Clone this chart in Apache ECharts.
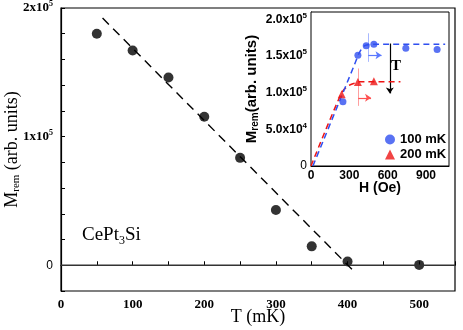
<!DOCTYPE html>
<html>
<head>
<meta charset="utf-8">
<script src="https://cdn.jsdelivr.net/npm/echarts@6/dist/echarts.min.js"></script>
<style>
  html, body { margin: 0; padding: 0; background: #fff; }
  #chart { width: 463px; height: 330px; }
</style>
</head>
<body>
<div id="chart"></div>
<script>
// main panel: remanent magnetization vs temperature
const mainT = [50, 100, 150, 200, 250, 300, 350, 400, 500]
const mainM = [180000, 167000, 146000, 115500, 83500, 43000, 14700, 2900, 300]
const fitT = [58, 412]
const fitM = [192200, -6400]
const zeroT = [0, 550]
const zeroM = [0, 0]

// inset: M_rem vs field
const h100 = [250, 367, 432, 492, 742, 987]
const m100 = [87500, 151000, 164000, 166000, 160500, 158800]
const h200 = [240, 367, 492]
const m200 = [98000, 114700, 115600]
const guide100H = [15, 340, 380, 420, 480, 1050]
const guide100M = [0, 138000, 155000, 164000, 166000, 166000]
const guide200H = [0, 240, 290, 340, 380, 700]
const guide200M = [0, 100000, 109000, 113000, 115000, 115000]

const mainYLabels = { 0: '0', 100000: '{b|1x10}{s|5}', 200000: '{b|2x10}{s|5}' }
const insetYLabels = {
  0: '0', 50000: '{b|5.0x10}{s|4}', 100000: '{b|1.0x10}{s|5}',
  150000: '{b|1.5x10}{s|5}', 200000: '{b|2.0x10}{s|5}'
}

const zip = (a, b) => a.map((v, i) => [v, b[i]])

const SERIF = 'Liberation Serif'
const SANS = 'Liberation Sans'
const BLUE = '#2f4ff0'
const RED = '#ee1515'

const chart = echarts.init(document.getElementById('chart'))

chart.setOption({
  animation: false,
  backgroundColor: '#fff',
  grid: [
    { left: 61, top: 8, right: 8, bottom: 39, outerBoundsMode: 'none', show: true, borderColor: '#000', borderWidth: 1.2 },
    { left: 311, top: 12, right: 14, bottom: 164, outerBoundsMode: 'none', show: true, borderColor: '#000', borderWidth: 1, backgroundColor: '#fff', z: 5 }
  ],
  legend: {
    data: ['100 mK', '200 mK'],
    orient: 'vertical',
    left: 380,
    top: 128,
    itemWidth: 10,
    itemHeight: 10,
    itemGap: 2,
    textStyle: { fontFamily: SANS, fontWeight: 'bold', fontSize: 13, color: '#000' },
    z: 10
  },
  xAxis: [
    {
      gridIndex: 0, type: 'value', min: 0, max: 550, interval: 50,
      name: 'T (mK)', nameLocation: 'middle', nameGap: 17, nameMoveOverlap: false,
      nameTextStyle: { fontFamily: SERIF, fontSize: 18, color: '#000' },
      axisLine: { lineStyle: { color: '#000', width: 1.2 } },
      axisTick: { inside: true, length: 4, lineStyle: { color: '#000' } },
      axisLabel: {
        margin: 7, fontFamily: SERIF, fontWeight: 'bold', fontSize: 13, color: '#000',
        formatter: v => (v % 100 === 0 ? String(v) : '')
      },
      splitLine: { show: false }
    },
    {
      gridIndex: 1, type: 'value', min: 0, max: 1080, interval: 100,
      name: 'H (Oe)', nameLocation: 'middle', nameGap: 15, nameMoveOverlap: false,
      nameTextStyle: { fontFamily: SANS, fontWeight: 'bold', fontSize: 14, color: '#000' },
      axisLine: { lineStyle: { color: '#000', width: 1 } },
      axisTick: { inside: true, length: 4, lineStyle: { color: '#000' } },
      axisLabel: {
        margin: 4, fontFamily: SANS, fontWeight: 'bold', fontSize: 12, color: '#000',
        showMaxLabel: false,
        formatter: v => (v % 300 === 0 ? String(v) : '')
      },
      splitLine: { show: false }
    }
  ],
  yAxis: [
    {
      gridIndex: 0, type: 'value', min: -20000, max: 200000, interval: 20000,
      name: '{m|M}{sub|rem}{m| (arb. units)}', nameLocation: 'middle', nameGap: 39, nameMoveOverlap: false,
      nameTextStyle: {
        rich: {
          m: { fontFamily: SERIF, fontSize: 18, color: '#000' },
          sub: { fontFamily: SERIF, fontSize: 11, color: '#000', verticalAlign: 'bottom', padding: [8, 0, 0, 0] }
        }
      },
      axisLine: { lineStyle: { color: '#000', width: 1.2 } },
      axisTick: { inside: true, length: 4, lineStyle: { color: '#000' } },
      axisLabel: {
        margin: 8, color: '#000',
        formatter: v => mainYLabels[v] || '',
        rich: {
          b: { fontFamily: SERIF, fontWeight: 'bold', fontSize: 13, color: '#000' },
          s: { fontFamily: SERIF, fontWeight: 'bold', fontSize: 8, color: '#000', verticalAlign: 'top', padding: [0, 0, 8, 0] }
        }
      },
      splitLine: { show: false }
    },
    {
      gridIndex: 1, type: 'value', min: 0, max: 210000, interval: 10000,
      name: '{m|M}{sub|rem}{m|(arb. units)}', nameLocation: 'middle', nameGap: 51, nameMoveOverlap: false,
      nameTextStyle: {
        rich: {
          m: { fontFamily: SANS, fontWeight: 'bold', fontSize: 15, color: '#000' },
          sub: { fontFamily: SANS, fontWeight: 'bold', fontSize: 10, color: '#000', verticalAlign: 'bottom', padding: [7, 0, 0, 0] }
        }
      },
      axisLine: { lineStyle: { color: '#000', width: 1 } },
      axisTick: { inside: true, length: 4, lineStyle: { color: '#000' } },
      axisLabel: {
        margin: 4, color: '#000',
        formatter: v => insetYLabels[v] || '',
        rich: {
          b: { fontFamily: SANS, fontWeight: 'bold', fontSize: 12, color: '#000' },
          s: { fontFamily: SANS, fontWeight: 'bold', fontSize: 8, color: '#000', verticalAlign: 'top', padding: [0, 0, 8, 0] }
        }
      },
      splitLine: { show: false }
    }
  ],
  graphic: [
    {
      type: 'text', left: 82, top: 226, z: 10,
      style: {
        text: '{a|CePt}{b|3}{a|Si}',
        rich: {
          a: { fontFamily: SERIF, fontSize: 19, fill: '#000' },
          b: { fontFamily: SERIF, fontSize: 12, fill: '#000', padding: [10, 0, 0, 0] }
        }
      }
    },
    {
      type: 'text', left: 391, top: 59, z: 10,
      style: { text: 'T', fontFamily: SERIF, fontWeight: 'bold', fontSize: 15, fill: '#000' }
    }
  ],
  series: [
    {
      type: 'line', xAxisIndex: 0, yAxisIndex: 0,
      data: zip(zeroT, zeroM), showSymbol: false, silent: true,
      lineStyle: { color: '#333', width: 1.5 }
    },
    {
      type: 'line', xAxisIndex: 0, yAxisIndex: 0,
      data: zip(fitT, fitM), showSymbol: false, silent: true,
      lineStyle: { color: '#000', width: 1.4, type: [9, 6] }
    },
    {
      name: 'main', type: 'scatter', xAxisIndex: 0, yAxisIndex: 0,
      data: zip(mainT, mainM), symbol: 'circle', symbolSize: 10,
      itemStyle: { color: '#000' }
    },
    {
      type: 'line', xAxisIndex: 1, yAxisIndex: 1, z: 6,
      data: zip(guide200H, guide200M), showSymbol: false, smooth: 0.3, silent: true,
      lineStyle: { color: RED, width: 1.5, type: [6, 4] },
      markLine: {
        silent: true, symbol: ['none', 'none'], label: { show: false },
        data: [
          [{ coord: [370, 133000], lineStyle: { color: '#ffa0a0', width: 1, type: 'solid' } }, { coord: [370, 82000] }],
          [{ coord: [370, 93000], symbol: 'none', lineStyle: { color: '#ff5050', width: 1.2, type: 'solid' } },
           { coord: [470, 93000], symbol: 'arrow', symbolSize: 6 }]
        ]
      }
    },
    {
      type: 'line', xAxisIndex: 1, yAxisIndex: 1, z: 6,
      data: zip(guide100H, guide100M), showSymbol: false, smooth: 0.3, silent: true,
      lineStyle: { color: BLUE, width: 1.5, type: [6, 4] },
      markLine: {
        silent: true, symbol: ['none', 'none'], label: { show: false },
        data: [
          [{ coord: [448, 181000], lineStyle: { color: '#a8b8ff', width: 1, type: 'solid' } }, { coord: [448, 142000] }],
          [{ coord: [448, 151000], symbol: 'none', lineStyle: { color: '#5a78ff', width: 1.2, type: 'solid' } },
           { coord: [552, 151000], symbol: 'arrow', symbolSize: 6 }],
          [{ coord: [617, 167000], symbol: 'none', lineStyle: { color: '#000', width: 1.2, type: 'solid' } },
           { coord: [617, 99000], symbol: 'arrow', symbolSize: 6 }]
        ]
      }
    },
    {
      name: '100 mK', type: 'scatter', xAxisIndex: 1, yAxisIndex: 1, z: 7,
      data: zip(h100, m100), symbol: 'circle', symbolSize: 7,
      itemStyle: { color: BLUE }
    },
    {
      name: '200 mK', type: 'scatter', xAxisIndex: 1, yAxisIndex: 1, z: 7,
      data: zip(h200, m200), symbol: 'triangle', symbolSize: 8,
      itemStyle: { color: RED }
    }
  ]
})

window.addEventListener('resize', () => chart.resize())
</script>
</body>
</html>
